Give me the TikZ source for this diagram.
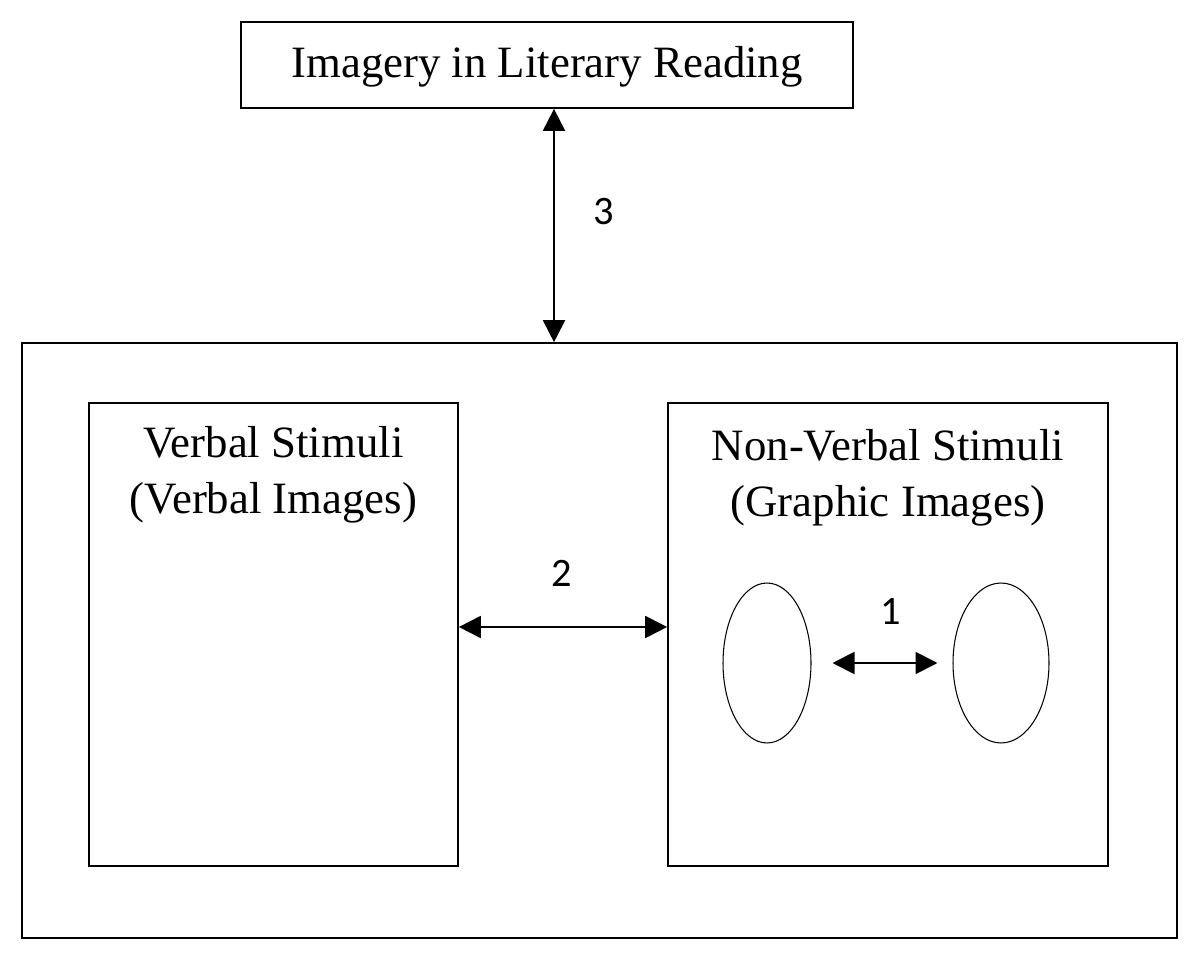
\documentclass[tikz,border=0pt]{standalone}
\usepackage{fontspec}
\setmainfont{Liberation Serif}
\newfontfamily\numfont{Carlito}
\usetikzlibrary{arrows.meta,positioning,shapes.geometric}
\tikzset{box/.style={draw,line width=1pt,inner sep=0pt},
	blob/.style={draw,ellipse,line width=0.6pt,inner sep=0pt},
	dbl/.style={line width=1.1pt,{Triangle[length=0.44cm,width=0.44cm]}-{Triangle[length=0.44cm,width=0.44cm]}},
	txt/.style={font=\fontsize{25.5}{32}\selectfont,align=center,inner sep=0pt},
	num/.style={font=\fontsize{23}{26}\numfont,inner sep=0pt}}

\begin{document}
\begin{tikzpicture}[x=0.02cm,y=-0.02cm]
		\useasboundingbox (0,0) rectangle (1200,962);
		
		\node[box,minimum width=12.24cm,minimum height=1.72cm] (top) at (547,65) {};
		\node[txt] (toptxt) at (547,67) {Imagery in Literary Reading};
		
		\node[box,minimum width=23.1cm,minimum height=11.9cm] (outer) at (599.5,640.5) {};
		
		\node[box,minimum width=7.38cm,minimum height=9.26cm] (verbal) at (273.5,634.5) {};
		\node[txt] (verbaltxt) at (273.5,475) {Verbal Stimuli\\(Verbal Images)};
		
		\node[box,minimum width=8.8cm,minimum height=9.26cm] (graphic) at (888,634.5) {};
		\node[txt] (graphictxt) at (888,478) {Non-Verbal Stimuli\\(Graphic Images)};
		
		\node[blob,minimum width=1.76cm,minimum height=3.2cm] (imgA) at (767,663) {};
		\node[blob,minimum width=1.92cm,minimum height=3.2cm] (imgB) at (1001,663) {};
		
		% links
		\draw[dbl] (554,0 |- top.south) -- (554,0 |- outer.north);
		\draw[dbl] (verbal.east |- 0,627) -- (graphic.west |- 0,627);
		\draw[dbl] ([xshift=0.42cm]imgA.east) -- ([xshift=-0.3cm]imgB.west);
		
		\node[num] (n3) at (604,212) {3};
		\node[num] (n2) at (562,573) {2};
		\node[num] (n1) at (891,611) {1};
		
	\end{tikzpicture}
\end{document}
